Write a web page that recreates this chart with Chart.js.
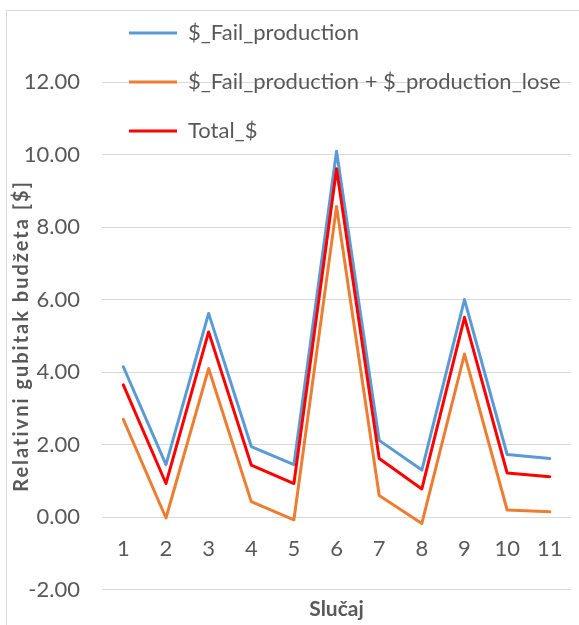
<!DOCTYPE html>
<html>
<head>
<meta charset="utf-8">
<script src="https://cdn.jsdelivr.net/npm/chart.js@4/dist/chart.umd.min.js"></script>
<style>
  html, body { margin: 0; padding: 0; background: #ffffff; overflow: hidden; }
  #wrap { position: relative; width: 581px; height: 625px; }
  #frame { position: absolute; left: 6px; top: 10px; width: 600px; height: 640px;
           border-top: 1px solid #d9d9d9; border-left: 1px solid #d9d9d9; }
  #c { position: absolute; left: 0; top: 0; }
</style>
</head>
<body>
<div id="wrap">
  <div id="frame"></div>
  <canvas id="c" width="581" height="625"></canvas>
</div>
<script>
const categories = ['1','2','3','4','5','6','7','8','9','10','11'];
const failProduction = [4.15, 1.45, 5.62, 1.95, 1.45, 10.09, 2.12, 1.30, 6.00, 1.73, 1.62];
const failPlusLose   = [2.70, -0.02, 4.10, 0.43, -0.07, 8.57, 0.60, -0.17, 4.50, 0.20, 0.15];
const totalCost      = [3.65, 0.93, 5.11, 1.44, 0.93, 9.61, 1.62, 0.78, 5.51, 1.22, 1.12];
const seriesNames = ['$_Fail_production', '$_Fail_production + $_production_lose', 'Total_$'];
const yTicks = [-2, 0, 2, 4, 6, 8, 10, 12];
const yTitle = 'Relativni gubitak budžeta [$]';
const xTitle = 'Slučaj';

const FONT = 'Lato, "Open Sans", sans-serif';
const GRAY = '#595959';

function ds(label, data, color, order) {
  return {
    label, data, borderColor: color, backgroundColor: color,
    borderWidth: 3, pointRadius: 0, pointHoverRadius: 0, tension: 0,
    borderJoinStyle: 'round', borderCapStyle: 'round', fill: false,
    order, pointStyle: 'line'
  };
}

// let the legend rows overflow into the plot (as in the reference) and space out the y title
const tweaks = {
  id: 'tweaks',
  beforeDraw(chart) {
    const lg = chart.legend;
    if (lg) { lg.bottom = chart.height; lg.height = chart.height - lg.top; }
    const y = chart.scales.y;
    if (y && !y._spaced) {
      const orig = y.drawTitle;
      y.drawTitle = function () {
        const ctx = this.ctx;
        ctx.save();
        ctx.letterSpacing = '2px';
        orig.apply(this, arguments);
        ctx.restore();
      };
      y._spaced = true;
    }
  }
};

new Chart(document.getElementById('c'), {
  type: 'line',
  data: {
    labels: categories,
    datasets: [
      ds(seriesNames[0], failProduction, '#5B9BD5', 3),
      ds(seriesNames[1], failPlusLose, '#ED7D31', 2),
      ds(seriesNames[2], totalCost, '#FF0000', 1)
    ]
  },
  plugins: [tweaks],
  options: {
    responsive: false,
    animation: false,
    events: [],
    layout: { padding: { top: -5, left: 0, right: 0, bottom: 0 } },
    plugins: {
      tooltip: { enabled: false },
      legend: {
        display: true,
        position: 'top',
        align: 'start',
        fullSize: false,
        maxHeight: 87,
        labels: {
          usePointStyle: true,
          pointStyleWidth: 48,
          padding: 27,
          color: GRAY,
          font: { family: FONT, size: 22 },
          sort: (a, b) => a.datasetIndex - b.datasetIndex
        }
      }
    },
    scales: {
      y: {
        position: 'left',
        min: -2, max: 12,
        afterBuildTicks: s => { s.ticks = yTicks.map(v => ({ value: v })); },
        afterFit: s => { s.width = 102; },
        border: { display: false },
        grid: { color: '#d9d9d9', lineWidth: 1, drawTicks: false },
        ticks: {
          padding: 22, color: GRAY,
          font: { family: FONT, size: 22 },
          callback: v => Number(v).toFixed(2)
        },
        title: {
          display: true, text: yTitle, color: GRAY,
          font: { family: FONT, size: 20, weight: 'bold' },
          padding: { top: 10, bottom: 0 }
        }
      },
      x: {
        type: 'category',
        position: { y: 0 },
        offset: true,
        border: { display: false },
        grid: { display: false, drawTicks: false },
        ticks: { padding: 18, color: GRAY, font: { family: FONT, size: 22 }, maxRotation: 0, autoSkip: false }
      },
      x2: {
        type: 'category',
        position: 'bottom',
        labels: categories,
        offset: true,
        afterFit: s => { s.height = 34; },
        border: { display: false },
        grid: { display: false, drawTicks: false },
        ticks: { display: false },
        title: {
          display: true, text: xTitle, color: GRAY,
          font: { family: FONT, size: 21, weight: 'bold' },
          padding: { top: 0, bottom: 2.4 }
        }
      }
    }
  }
});
</script>
</body>
</html>
